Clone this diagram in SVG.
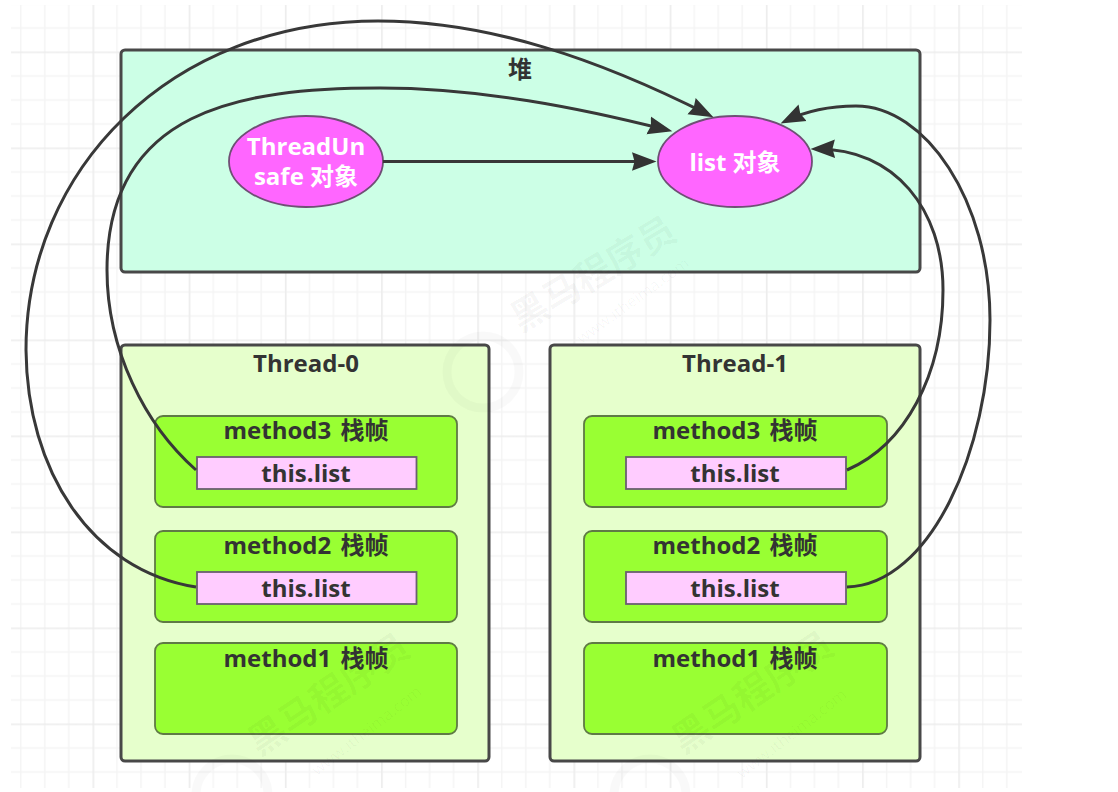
<svg xmlns="http://www.w3.org/2000/svg" width="1118" height="792" viewBox="0 0 1118 792">
  <style>
    text { font-family: "Open Sans", "Noto Sans CJK SC", sans-serif; font-weight: 700; text-anchor: middle; fill: #333333; font-size: 24px; }
    .w { fill: #ffffff; }
    .m { word-spacing: 3px; }
    .region { stroke: #484848; stroke-width: 3; }
    .heap { fill: #ccffe6; }
    .thread { fill: #e6ffcc; }
    .frame { fill: #99ff33; stroke: #5f7a45; stroke-width: 1.8; }
    .ref { fill: #ffccff; stroke: #6b5f70; stroke-width: 1.8; }
    .obj { fill: #ff66ff; stroke: #6f4f75; stroke-width: 1.8; }
    .conn { fill: none; stroke: #383838; stroke-width: 3; marker-end: url(#arrow); }
    .mark text { fill: #000000; fill-opacity: 0.035; }
    .mark circle { fill: none; stroke: #000000; stroke-opacity: 0.025; stroke-width: 9; }
  </style>
  <defs>
    <pattern id="grid" patternUnits="userSpaceOnUse" x="92.5" y="51.5" width="96.2" height="96">
      <path d="M24.5 0V96M48.5 0V96M72.5 0V96M0 24.5H96.2M0 48.5H96.2M0 72.5H96.2" fill="none" stroke="#f4f4f4" stroke-width="1.4"/>
      <path d="M0.8 0V96M0 0.8H96.2" fill="none" stroke="#ececec" stroke-width="1.6"/>
    </pattern>
    <marker id="arrow" markerUnits="userSpaceOnUse" markerWidth="26" markerHeight="20" viewBox="0 0 26 20" refX="19" refY="10" orient="auto">
      <path d="M0 0.800 L24.500 10 L0 19.200 L2.500 10 Z" fill="#333333"/>
    </marker>
  </defs>

  <rect width="1118" height="792" fill="#ffffff"/>
  <rect id="background-grid" x="11" y="5" width="1011" height="783" fill="url(#grid)"/>

  <g id="heap">
    <rect class="region heap" x="121" y="50" width="799" height="222" rx="4"/>
    <text x="520" y="78">堆</text>
  </g>

  <g id="thread-0">
    <rect class="region thread" x="121" y="345" width="368" height="416" rx="4"/>
    <text x="306" y="372">Thread-0</text>
  </g>
  <g id="thread-1">
    <rect class="region thread" x="550" y="345" width="370" height="416" rx="4"/>
    <text x="735" y="372">Thread-1</text>
  </g>

  <g id="t0-method3">
    <rect class="frame" x="155" y="416" width="302" height="91" rx="8"/>
    <text class="m" x="306" y="439">method3 栈帧</text>
  </g>
  <g id="t0-method3-list">
    <rect class="ref" x="197" y="457" width="219.500" height="32"/>
    <text x="306" y="482">this.list</text>
  </g>
  <g id="t0-method2">
    <rect class="frame" x="155" y="531" width="302" height="91" rx="8"/>
    <text class="m" x="306" y="554">method2 栈帧</text>
  </g>
  <g id="t0-method2-list">
    <rect class="ref" x="197" y="572" width="219.500" height="32"/>
    <text x="306" y="597">this.list</text>
  </g>
  <g id="t0-method1">
    <rect class="frame" x="155" y="643" width="302" height="91" rx="8"/>
    <text class="m" x="306" y="667">method1 栈帧</text>
  </g>

  <g id="t1-method3">
    <rect class="frame" x="584" y="416" width="303" height="91" rx="8"/>
    <text class="m" x="735" y="439">method3 栈帧</text>
  </g>
  <g id="t1-method3-list">
    <rect class="ref" x="626" y="457" width="220" height="32"/>
    <text x="735" y="482">this.list</text>
  </g>
  <g id="t1-method2">
    <rect class="frame" x="584" y="531" width="303" height="91" rx="8"/>
    <text class="m" x="735" y="554">method2 栈帧</text>
  </g>
  <g id="t1-method2-list">
    <rect class="ref" x="626" y="572" width="220" height="32"/>
    <text x="735" y="597">this.list</text>
  </g>
  <g id="t1-method1">
    <rect class="frame" x="584" y="643" width="303" height="91" rx="8"/>
    <text class="m" x="735" y="667">method1 栈帧</text>
  </g>

  <g id="threadunsafe-object">
    <ellipse class="obj" cx="306" cy="161.500" rx="77" ry="45.500"/>
    <text class="w"><tspan x="306" y="155">ThreadUn</tspan><tspan x="306" y="185">safe 对象</tspan></text>
  </g>
  <g id="list-object">
    <ellipse class="obj" cx="735" cy="161.500" rx="77" ry="45.500"/>
    <text class="w" x="735" y="171">list 对象</text>
  </g>

  <g id="watermarks" class="mark">
    <text transform="translate(600 285) rotate(-31)" style="font-size:37px">黑马程序员</text>
    <text transform="translate(636 305) rotate(-36)" style="font-size:16px;font-weight:400">www.itheima.com</text>
    <circle cx="483" cy="372" r="36"/>
    <text transform="translate(336 705) rotate(-34)" style="font-size:37px">黑马程序员</text>
    <text transform="translate(370 735) rotate(-38)" style="font-size:16px;font-weight:400">www.itheima.com</text>
    <circle cx="232" cy="795" r="36"/>
    <text transform="translate(760 703) rotate(-34)" style="font-size:37px">黑马程序员</text>
    <text transform="translate(795 738) rotate(-38)" style="font-size:16px;font-weight:400">www.itheima.com</text>
    <circle cx="650" cy="795" r="36"/>
  </g>

  <g id="connectors">
    <path class="conn" d="M383 161.500H651"/>
    <path class="conn" d="M196 587C90 570 27 470 26 350C26 170 170 21 378 21C490 21 600 60 708.500 114.700"/>
    <path class="conn" d="M196 470C145 425 107 350 107 270C107 110 240 88 380 88C480 88 580 108 667 130"/>
    <path class="conn" d="M847 470C905 445 943 375 943 290C943 210 895 148 816 149"/>
    <path class="conn" d="M847 587C930 585 990 450 990 320C990 200 925 106 856 106C832 106 808 110 785.500 121"/>
  </g>
</svg>
